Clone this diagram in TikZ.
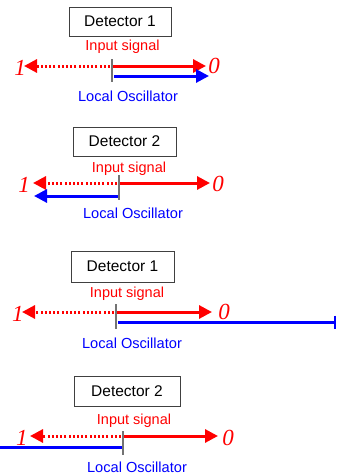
\documentclass[tikz,border=0pt]{standalone}
\usepackage{fontspec}
\setmainfont{Liberation Sans}
\newfontfamily\numfont{Liberation Serif}
\usetikzlibrary{arrows.meta}
\tikzset{
  detbox/.style={draw=black!75, line width=0.9pt, inner sep=0pt, minimum height=29pt, font=\fontsize{15.5}{18}\selectfont},
  sig/.style={text=red, inner sep=0pt, font=\fontsize{14.5}{16}\selectfont},
  lo/.style={text=blue, inner sep=0pt, font=\fontsize{14.6}{16}\selectfont},
  num/.style={text=red, inner sep=0pt, font=\numfont\itshape\fontsize{23}{26}\selectfont},
  tickline/.style={draw=black!55, line width=1.2pt},
  redarrow/.style={draw=red, line width=3pt, -{Triangle[length=13pt,width=13pt]}},
  dotarrow/.style={draw=red, line width=3pt, dash pattern=on 2pt off 2.2pt, -{Triangle[length=13pt,width=13pt]}},
  bluearrow/.style={draw=blue, line width=3pt, -{Triangle[length=13pt,width=13pt]}},
  blueline/.style={draw=blue, line width=3pt},
}
\begin{document}
\begin{tikzpicture}[x=1pt,y=-1pt]
\useasboundingbox (0,0) rectangle (337,475);
% ---------- Panel 1 ----------
\node[detbox, minimum width=102pt] (box1) at (120,21.5) {Detector 1};
\node[sig] (in1) at (122.5,47) {Input signal};
\node[lo] (lo1) at (128,96) {Local Oscillator};
\node[num] (one1) at (20,68) {1};
\node[num] (zero1) at (214,66) {0};
\coordinate (t1a) at (112,59); \coordinate (t1b) at (112,82);
\coordinate (r1s) at (113,66); \coordinate (r1e) at (206,66);
\coordinate (d1s) at (110,66); \coordinate (d1e) at (24,66);
\coordinate (b1s) at (114,76); \coordinate (b1e) at (209,76);
\draw[dotarrow] (d1s) -- (d1e);
\draw[redarrow] (r1s) -- (r1e);
\draw[bluearrow] (b1s) -- (b1e);
\draw[tickline] (t1a) -- (t1b);
% ---------- Panel 2 ----------
\node[detbox, minimum width=103pt] (box2) at (124.5,141.5) {Detector 2};
\node[sig] (in2) at (129,169) {Input signal};
\node[lo] (lo2) at (133,213) {Local Oscillator};
\node[num] (one2) at (24,185) {1};
\node[num] (zero2) at (218,184) {0};
\coordinate (t2a) at (119,175); \coordinate (t2b) at (119,200);
\coordinate (r2s) at (120,183); \coordinate (r2e) at (210,183);
\coordinate (d2s) at (117,183); \coordinate (d2e) at (33,183);
\coordinate (b2s) at (118,196); \coordinate (b2e) at (34,196);
\draw[dotarrow] (d2s) -- (d2e);
\draw[redarrow] (r2s) -- (r2e);
\draw[bluearrow] (b2s) -- (b2e);
\draw[tickline] (t2a) -- (t2b);
% ---------- Panel 3 ----------
\node[detbox, minimum width=103pt, minimum height=31pt] (box3) at (122.5,266.5) {Detector 1};
\node[sig] (in3) at (127,294) {Input signal};
\node[lo] (lo3) at (132,343) {Local Oscillator};
\node[num] (one3) at (18,314) {1};
\node[num] (zero3) at (224,312) {0};
\coordinate (t3a) at (116,304); \coordinate (t3b) at (116,329);
\coordinate (r3s) at (117,312); \coordinate (r3e) at (212,312);
\coordinate (d3s) at (114,312); \coordinate (d3e) at (22,312);
\coordinate (b3s) at (118,322); \coordinate (b3e) at (336,322);
\draw[dotarrow] (d3s) -- (d3e);
\draw[redarrow] (r3s) -- (r3e);
\draw[blueline, -{Bar[width=13pt,line width=1.8pt]}] (b3s) -- (b3e);
\draw[tickline] (t3a) -- (t3b);
% ---------- Panel 4 ----------
\node[detbox, minimum width=106pt, minimum height=30pt] (box4) at (127,391) {Detector 2};
\node[sig] (in4) at (134,421) {Input signal};
\node[lo] (lo4) at (137,467) {Local Oscillator};
\node[num] (one4) at (22,438) {1};
\node[num] (zero4) at (228,438) {0};
\coordinate (t4a) at (123,431); \coordinate (t4b) at (123,455);
\coordinate (r4s) at (124,436); \coordinate (r4e) at (218,436);
\coordinate (d4s) at (121,436); \coordinate (d4e) at (30,436);
\coordinate (b4s) at (0,447); \coordinate (b4e) at (122,447);
\draw[blueline] (b4s) -- (b4e);
\draw[dotarrow] (d4s) -- (d4e);
\draw[redarrow] (r4s) -- (r4e);
\draw[tickline] (t4a) -- (t4b);
\end{tikzpicture}
\end{document}
